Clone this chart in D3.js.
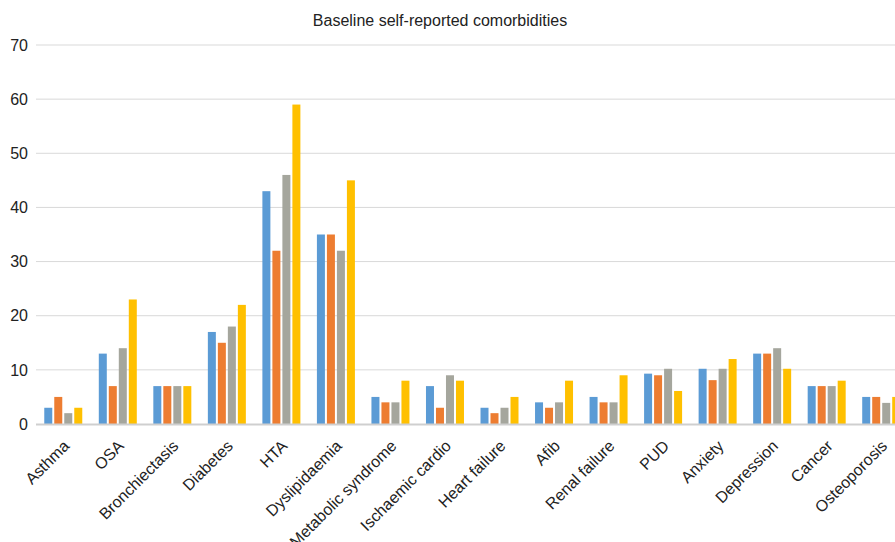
<!DOCTYPE html>
<html><head><meta charset="utf-8">
<script src="https://cdn.jsdelivr.net/npm/d3@7"></script>
<style>body{margin:0;background:#fff;overflow:hidden}svg{display:block}</style>
</head><body><svg id="c" width="895" height="542"></svg>
<script>
const categories = ["Asthma","OSA","Bronchiectasis","Diabetes","HTA","Dyslipidaemia","Metabolic syndrome","Ischaemic cardio","Heart failure","Afib","Renal failure","PUD","Anxiety","Depression","Cancer","Osteoporosis"];
const series1 = [3,13,7,17,43,35,5,7,3,4,5,9.3,10.2,13,7,5];
const series2 = [5,7,7,15,32,35,4,3,2,3,4,9,8.1,13,7,5];
const series3 = [2,14,7,18,46,32,4,9,3,4,4,10.2,10.2,14,7,3.9];
const series4 = [3,23,7,22,59,45,8,8,5,8,9,6.1,12,10.2,8,5];
const yTicks = [0,10,20,30,40,50,60,70];
const title = "Baseline self-reported comorbidities";
const colors = ["#5b9bd5","#ed7d31","#a5a69d","#ffc000"];
const seriesList = [series1,series2,series3,series4];

const svg = d3.select("#c");
const font = "Liberation Sans, Arial, Helvetica, sans-serif";
const x0 = 36, bandW = 54.53, yTop = 45, yBot = 424;
const x = d3.scaleBand().domain(categories).range([x0, x0 + bandW*categories.length]).paddingInner(0).paddingOuter(0);
const y = d3.scaleLinear().domain([0,70]).range([yBot, yTop]);
const barW = 8, step = 10;

svg.append("g").selectAll("line").data(yTicks.filter(d=>d>0)).join("line")
  .attr("x1", x0).attr("x2", 895).attr("y1", d=>y(d)).attr("y2", d=>y(d))
  .attr("stroke", "#d9d9d9").attr("stroke-width", 1);

svg.append("g").selectAll("text").data(yTicks).join("text")
  .attr("x", 28).attr("y", d=>y(d)).attr("dy","0.36em")
  .attr("text-anchor","end").attr("font-family",font).attr("font-size",16).attr("fill","#222")
  .text(d=>d);

const groupW = step*3 + barW;
seriesList.forEach((s, si) => {
  svg.append("g").selectAll("rect").data(s).join("rect")
    .attr("x", (d,i)=> x(categories[i]) + (bandW-groupW)/2 + si*step)
    .attr("width", barW)
    .attr("y", d=>y(d)).attr("height", d=>yBot - y(d))
    .attr("fill", colors[si]);
});

svg.append("line").attr("x1", x0).attr("x2", 895).attr("y1", yBot+0.5).attr("y2", yBot+0.5)
  .attr("stroke","#cfcfcf").attr("stroke-width",2);

svg.append("g").selectAll("text").data(categories).join("text")
  .attr("transform", d=>`translate(${x(d)+bandW/2+7},${yBot+23}) rotate(-45)`)
  .attr("text-anchor","end")
  .attr("font-family",font).attr("font-size",16).attr("fill","#222")
  .text(d=>d);

svg.append("text").attr("x", 440).attr("y", 26).attr("text-anchor","middle")
  .attr("font-family",font).attr("font-size",16).attr("fill","#222").text(title);
</script></body></html>
